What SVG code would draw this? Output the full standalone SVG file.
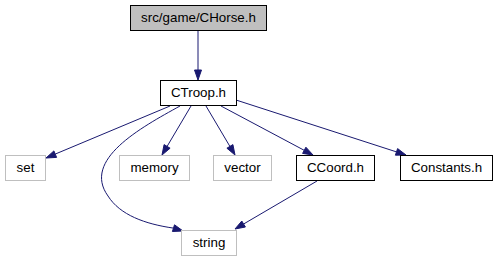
<svg xmlns="http://www.w3.org/2000/svg" width="499" height="261" viewBox="0 0 499 261">
  <style>
    text { font-family: "Liberation Sans", Arial, Helvetica, sans-serif; font-size: 13.33px; text-anchor: middle; fill: #000000; }
    .node rect { fill: #ffffff; stroke: #000000; stroke-width: 1; }
    .node.root rect { fill: #bfbfbf; }
    .node.ext rect { stroke: #bfbfbf; }
    .edge path { fill: none; stroke: #191970; stroke-width: 1; }
    .edge polygon { fill: #191970; stroke: #191970; stroke-width: 1; }
  </style>
  <rect x="0" y="0" width="499" height="261" fill="#ffffff"/>

  <g id="edges">
    <g class="edge" id="e-chorse-ctroop">
      <path d="M198,31 L198,70"/>
      <polygon points="194.5,70 198,80 201.5,70"/>
    </g>
    <g class="edge" id="e-ctroop-set">
      <path d="M170,106 L55.2,154.1"/>
      <polygon points="56.6,157.4 46,158 53.9,150.9"/>
    </g>
    <g class="edge" id="e-ctroop-string">
      <path d="M180,106 C140,128 82,160 108,196 C120,215 145,224 173.4,228.1"/>
      <polygon points="172.4,231.5 183,231 174.5,224.8"/>
    </g>
    <g class="edge" id="e-ctroop-memory">
      <path d="M191,106 L167.1,146.4"/>
      <polygon points="170.1,148.2 162,155 164.1,144.6"/>
    </g>
    <g class="edge" id="e-ctroop-vector">
      <path d="M206,106 L229.9,146.4"/>
      <polygon points="226.9,148.2 235,155 232.9,144.6"/>
    </g>
    <g class="edge" id="e-ctroop-ccoord">
      <path d="M221,106 L304.2,150.3"/>
      <polygon points="302.6,153.4 313,155 305.9,147.2"/>
    </g>
    <g class="edge" id="e-ctroop-constants">
      <path d="M236,100 L396.5,151.9"/>
      <polygon points="395.4,155.2 406,155 397.6,148.6"/>
    </g>
    <g class="edge" id="e-ccoord-string">
      <path d="M317,181 L243.6,224"/>
      <polygon points="245.4,227 235,229 241.8,221"/>
    </g>
  </g>

  <g id="node-chorse" class="node root">
    <rect x="130.5" y="5.5" width="136" height="25"/>
    <text x="198.5" y="22">src/game/CHorse.h</text>
  </g>
  <g id="node-ctroop" class="node">
    <rect x="160.5" y="80.5" width="76" height="25"/>
    <text x="198.5" y="97">CTroop.h</text>
  </g>
  <g id="node-set" class="node ext">
    <rect x="5.5" y="155.5" width="40" height="25"/>
    <text x="25.5" y="172">set</text>
  </g>
  <g id="node-memory" class="node ext">
    <rect x="119.5" y="155.5" width="70" height="25"/>
    <text x="154.5" y="172">memory</text>
  </g>
  <g id="node-vector" class="node ext">
    <rect x="213.5" y="155.5" width="58" height="25"/>
    <text x="242.5" y="172">vector</text>
  </g>
  <g id="node-ccoord" class="node">
    <rect x="296.5" y="155.5" width="78" height="25"/>
    <text x="335.5" y="172">CCoord.h</text>
  </g>
  <g id="node-constants" class="node">
    <rect x="400.5" y="155.5" width="92" height="25"/>
    <text x="446.5" y="172">Constants.h</text>
  </g>
  <g id="node-string" class="node ext">
    <rect x="181.5" y="230.5" width="55" height="25"/>
    <text x="209" y="247">string</text>
  </g>
</svg>
